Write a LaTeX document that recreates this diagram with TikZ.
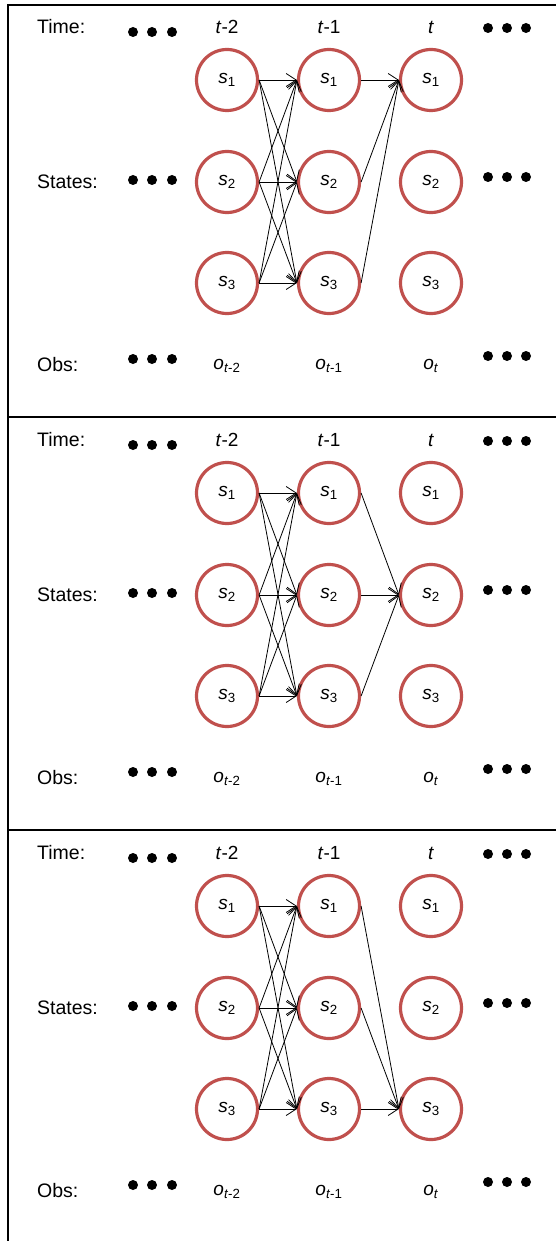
\documentclass[tikz,border=0pt]{standalone}
\usepackage{fontspec}
\setmainfont{Liberation Sans}
\usetikzlibrary{arrows.meta}
\definecolor{stateCol}{RGB}{192,80,77}
\tikzset{
  state/.style={circle,draw=stateCol,line width=3.2pt,minimum size=61pt,inner sep=0pt,
                font=\fontsize{19}{22}\selectfont},
  lab/.style={font=\fontsize{19.5}{22}\selectfont,anchor=west,inner sep=0pt},
  tlab/.style={font=\fontsize{19}{22}\selectfont,inner sep=0pt},
  flow/.style={-{Straight Barb[length=10pt,width=13pt]},line width=0.8pt},
  frame/.style={line width=2pt},
}

\begin{document}
\begin{tikzpicture}[x=1pt,y=-1pt]
  \useasboundingbox (0,0) rectangle (556,1241);
  % --- outer frame and panel separators ---
  \draw[frame] (556,5) -- (8,5) -- (8,1241);
  \draw[frame] (8,417) -- (556,417);
  \draw[frame] (8,830) -- (556,830);
  % --- one panel per target state at time t ---
  \foreach \p/\dy in {1/0,2/413,3/826} {
    \begin{scope}[yshift=-\dy pt]
      \node[lab] (time\p)   at (37,27)  {Time:};
      \node[lab] (states\p) at (37,182) {States:};
      \node[lab] (obs\p)    at (37,365) {Obs:};
      \node[tlab] (ta\p) at (227,27) {\textit{t}-2};
      \node[tlab] (tb\p) at (329,27) {\textit{t}-1};
      \node[tlab] (tc\p) at (431,27) {\textit{t}};
      \node[tlab] (oa\p) at (227,366) {\textit{o}\textsubscript{\textit{t}-2}};
      \node[tlab] (ob\p) at (329,366) {\textit{o}\textsubscript{\textit{t}-1}};
      \node[tlab] (oc\p) at (431,366) {\textit{o}\textsubscript{\textit{t}}};
      % state circles, columns a,b,c = t-2, t-1, t
      \foreach \c/\x in {a/227,b/329,c/431}
        \foreach \r/\y in {1/80,2/182,3/283}
          \node[state] (\c\r-\p) at (\x,\y) {\textit{s}\textsubscript{\r}};
      % ellipsis dots
      \foreach \y in {32,180,359}
        \foreach \x in {133,152,172}
          \fill (\x,\y) circle[radius=5pt];
      \foreach \y in {28,177,356}
        \foreach \x in {488,507,526}
          \fill (\x,\y) circle[radius=5pt];
      % transitions t-2 -> t-1
      \foreach \i in {1,2,3}
        \foreach \j in {1,2,3}
          \draw[flow] (a\i-\p.east) -- (b\j-\p.west);
      % transitions t-1 -> t
      \foreach \i in {1,2,3}
        \draw[flow] (b\i-\p.east) -- (c\p-\p.west);
    \end{scope}
  }
\end{tikzpicture}
\end{document}
